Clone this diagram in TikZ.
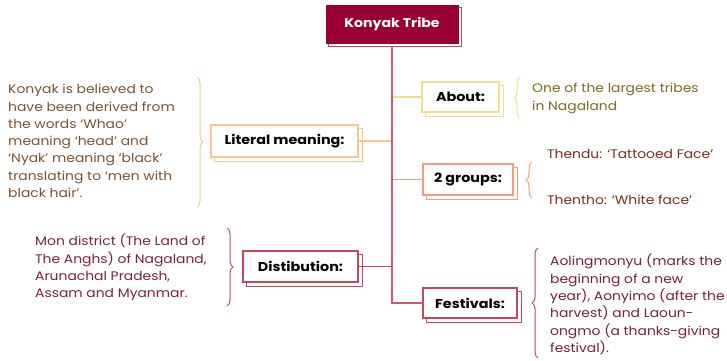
\documentclass[tikz,border=0pt]{standalone}
\usepackage{fontspec}
\setmainfont{Poppins}[FakeStretch=1.12]
\usetikzlibrary{backgrounds,decorations.pathreplacing}
\definecolor{crim}{HTML}{990033}
\definecolor{trunkc}{HTML}{D9576A}
\definecolor{yel}{HTML}{F3DE8A}
\definecolor{ora}{HTML}{FBC58C}
\definecolor{sal}{HTML}{F89B7D}
\definecolor{redb}{HTML}{C8485A}
\definecolor{tbrown}{HTML}{7B5230}
\definecolor{tolive}{HTML}{7A6B1F}
\definecolor{tgroup}{HTML}{7C2C1C}
\definecolor{tmon}{HTML}{7D2235}
\definecolor{tfest}{HTML}{7A1D3C}
\tikzset{
  body/.style={font=\fontsize{12.4}{17.3}\selectfont, align=left, inner sep=0pt, anchor=west},
  labelbox/.style={draw=#1, fill=white, line width=1.1pt, font=\fontsize{12.8}{15}\selectfont\bfseries,
     text=black, inner sep=0pt},
  shadowbox/.style={draw=#1, fill=white, line width=1.1pt},
  link/.style={line width=1.2pt, draw=#1},
  bracel/.style={draw=#1, line width=1pt, decorate, decoration={brace, amplitude=6pt}}
}
\begin{document}
\begin{tikzpicture}[x=1pt,y=-1pt]
\useasboundingbox (0,0) rectangle (727,360);
% title
\node[draw=crim, fill=crim, text=white, font=\fontsize{12.6}{15}\selectfont\bfseries,
  minimum width=132pt, minimum height=38pt, inner sep=0pt]
  (title) at (392,24) {Konyak Tribe};
% boxes
\node[labelbox=yel, minimum width=77pt, minimum height=30pt] (about) at (460.5,97) {About:};
\node[labelbox=sal, minimum width=90pt, minimum height=31pt] (groups) at (468,179.5) {2 groups:};
\node[labelbox=ora, minimum width=147pt, minimum height=32pt] (lit) at (284.5,141) {Literal meaning:};
\node[labelbox=redb, minimum width=115pt, minimum height=31pt] (dist) at (300.5,266.5) {Distibution:};
\node[labelbox=redb, minimum width=94pt, minimum height=30pt] (fest) at (470,303) {Festivals:};
% shadows
\begin{scope}[on background layer]
\path[shadowbox=redb, line width=0.9pt] ([shift={(3,3)}]title.north west) rectangle ([shift={(3,3)}]title.south east);
\path[shadowbox=yel] ([shift={(4,4)}]about.north west) rectangle ([shift={(4,4)}]about.south east);
\path[shadowbox=sal] ([shift={(4,4)}]groups.north west) rectangle ([shift={(4,4)}]groups.south east);
\path[shadowbox=ora] ([shift={(4,4)}]lit.north west) rectangle ([shift={(4,4)}]lit.south east);
\path[shadowbox=redb] ([shift={(4,4)}]dist.north west) rectangle ([shift={(4,4)}]dist.south east);
\path[shadowbox=redb] ([shift={(4,4)}]fest.north west) rectangle ([shift={(4,4)}]fest.south east);
\end{scope}
% connectors
\draw[link=ora] (lit.east) -- (lit.east -| title.south);
\draw[link=redb] (dist.east) -- (dist.east -| title.south);
\draw[link=yel] (about.west) -- (about.west -| title.south);
\draw[link=sal] (groups.west) -- (groups.west -| title.south);
\draw[link=trunkc] ([yshift=-3pt]title.south) -- (title.south |- fest.west) -- (fest.west);
% texts
\node[body, text=tbrown] (littext) at (8,141) {Konyak is believed to\\have been derived from\\the words ‘Whao’\\meaning ‘head’ and\\‘Nyak’ meaning ‘black’\\translating to ‘men with\\black hair’.};
\node[body, text=tolive] (abouttext) at (532,98.5) {One of the largest tribes\\in Nagaland};
\node[body, text=tgroup] (g1) at (547,154) {Thendu: ‘Tattooed Face’};
\node[body, text=tgroup] (g2) at (547,200) {Thentho: ‘White face’};
\node[body, text=tmon] (montext) at (35,267.5) {Mon district (The Land of\\The Anghs) of Nagaland,\\Arunachal Pradesh,\\Assam and Myanmar.};
\node[body, text=tfest] (festtext) at (550,304.5) {Aolingmonyu (marks the\\beginning of a new\\year), Aonyimo (after the\\harvest) and Laoun-\\ongmo (a thanks-giving\\festival).};
% braces
\coordinate (b1a) at (197,77); \coordinate (b1b) at (197,207);
\draw[bracel=ora] (b1a) -- (b1b);
\coordinate (b2a) at (520,119); \coordinate (b2b) at (520,77);
\draw[bracel=yel] (b2a) -- (b2b);
\coordinate (b3a) at (532,198); \coordinate (b3b) at (532,162);
\draw[bracel=sal] (b3a) -- (b3b);
\coordinate (b4a) at (227,228); \coordinate (b4b) at (227,306);
\draw[bracel=redb] (b4a) -- (b4b);
\coordinate (b5a) at (538,358); \coordinate (b5b) at (538,248);
\draw[bracel=redb] (b5a) -- (b5b);
\end{tikzpicture}
\end{document}
